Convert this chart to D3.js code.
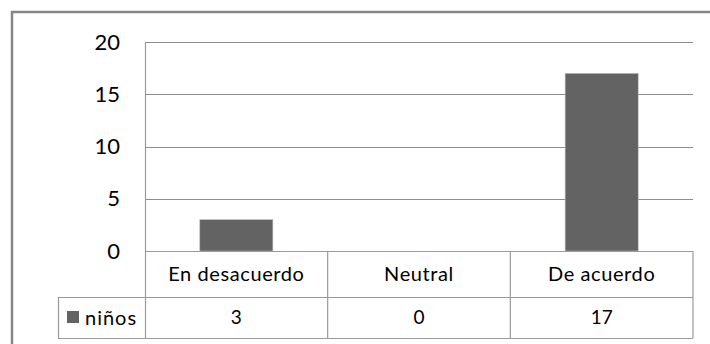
<!DOCTYPE html>
<html>
<head>
<meta charset="utf-8">
<script src="https://cdn.jsdelivr.net/npm/d3@7"></script>
<style>
  html, body { margin: 0; padding: 0; background: #fff; }
  svg { display: block; }
  text { font-family: Lato, "Open Sans", sans-serif; fill: #000; }
</style>
</head>
<body>
<svg id="chart" width="710" height="344"></svg>
<script>
// Responses per category
const categories = ["En desacuerdo", "Neutral", "De acuerdo"];
const seriesName = "niños";
const values = [3, 0, 17];
const yTicks = [0, 5, 10, 15, 20];

const W = 710, H = 344;
const plot = { left: 145, right: 693, top: 42, bottom: 251 };
const rowH1 = 46, rowH2 = 41;
const legendLeft = 58;

const svg = d3.select("#chart");

const x = d3.scaleBand()
  .domain(categories)
  .range([plot.left, plot.right])
  .paddingInner(0)
  .paddingOuter(0);

const y = d3.scaleLinear()
  .domain([0, 20])
  .range([plot.bottom, plot.top]);

// outer frame (top and left edges visible)
svg.append("path")
  .attr("d", `M12,${H} L12,12 L${W},12`)
  .attr("fill", "none")
  .attr("stroke", "#878787")
  .attr("stroke-width", 2.5);

// horizontal gridlines
svg.append("g")
  .selectAll("line")
  .data(yTicks.filter(d => d > 0))
  .join("line")
  .attr("x1", plot.left)
  .attr("x2", plot.right)
  .attr("y1", d => Math.round(y(d)) + 0.5)
  .attr("y2", d => Math.round(y(d)) + 0.5)
  .attr("stroke", "#8c8c8c")
  .attr("stroke-width", 1.2);

// y tick labels
svg.append("g")
  .selectAll("text")
  .data(yTicks)
  .join("text")
  .attr("x", 120)
  .attr("y", d => y(d))
  .attr("dy", "0.35em")
  .attr("text-anchor", "end")
  .style("font-size", "22px")
  .text(d => d);

// bars
const barW = x.bandwidth() * 0.4;
svg.append("g")
  .selectAll("rect")
  .data(values)
  .join("rect")
  .attr("x", (d, i) => x(categories[i]) + (x.bandwidth() - barW) / 2)
  .attr("y", d => y(d))
  .attr("width", barW)
  .attr("height", d => y(0) - y(d))
  .attr("fill", "#636363")
  .attr("stroke", "#bdbdbd")
  .attr("stroke-width", 0.6);

// data table beneath the plot
const tRow1 = plot.bottom, tRow2 = plot.bottom + rowH1, tEnd = plot.bottom + rowH1 + rowH2;
const grid = svg.append("g")
  .attr("stroke", "#9a9a9a")
  .attr("stroke-width", 1.2)
  .attr("fill", "none");

// left vertical line of plot area through the table
grid.append("line").attr("x1", plot.left + 0.5).attr("x2", plot.left + 0.5)
  .attr("y1", plot.top).attr("y2", tEnd);
// category separators and right edge
categories.forEach((c, i) => {
  const xx = x(c) + x.bandwidth();
  grid.append("line").attr("x1", xx).attr("x2", xx).attr("y1", tRow1).attr("y2", tEnd);
});
// legend cell left edge
grid.append("line").attr("x1", legendLeft + 0.5).attr("x2", legendLeft + 0.5)
  .attr("y1", tRow2).attr("y2", tEnd);
// horizontal table lines
grid.append("line").attr("x1", plot.left).attr("x2", plot.right)
  .attr("y1", tRow1 + 0.5).attr("y2", tRow1 + 0.5);
grid.append("line").attr("x1", legendLeft).attr("x2", plot.right)
  .attr("y1", tRow2 + 0.5).attr("y2", tRow2 + 0.5);
grid.append("line").attr("x1", legendLeft).attr("x2", plot.right)
  .attr("y1", tEnd + 0.5).attr("y2", tEnd + 0.5);

// category labels
svg.append("g")
  .selectAll("text")
  .data(categories)
  .join("text")
  .attr("x", d => x(d) + x.bandwidth() / 2)
  .attr("y", (tRow1 + tRow2) / 2)
  .attr("dy", "0.35em")
  .attr("text-anchor", "middle")
  .style("font-size", "20px")
  .style("letter-spacing", "0.6px")
  .text(d => d);

// value row
svg.append("g")
  .selectAll("text")
  .data(values)
  .join("text")
  .attr("x", (d, i) => x(categories[i]) + x.bandwidth() / 2)
  .attr("y", (tRow2 + tEnd) / 2)
  .attr("dy", "0.35em")
  .attr("text-anchor", "middle")
  .style("font-size", "19px")
  .text(d => d);

// legend key
svg.append("rect")
  .attr("x", 67).attr("y", 311)
  .attr("width", 12).attr("height", 12)
  .attr("fill", "#636363");
svg.append("text")
  .attr("x", 85)
  .attr("y", (tRow2 + tEnd) / 2)
  .attr("dy", "0.35em")
  .style("font-size", "20px")
  .style("letter-spacing", "1px")
  .text(seriesName);
</script>
</body>
</html>
